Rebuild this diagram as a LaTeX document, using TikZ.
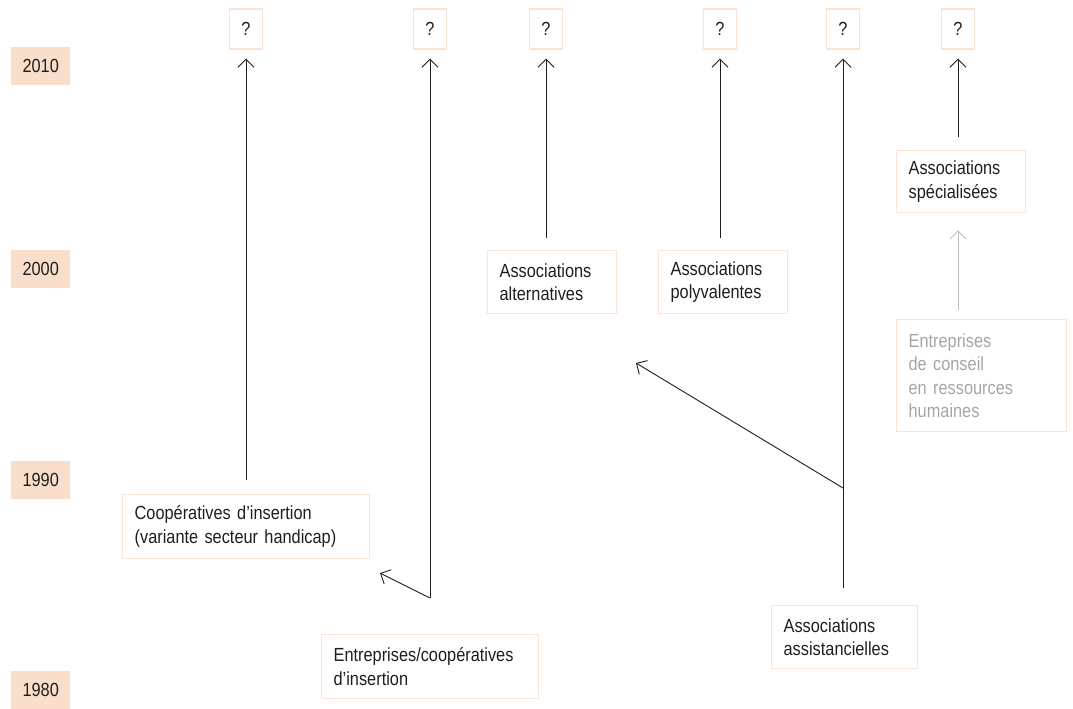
\documentclass[tikz,border=0pt]{standalone}
\usepackage{fontspec}
\setmainfont{Liberation Sans}[FakeStretch=0.86, WordSpace=0.8]
\usetikzlibrary{arrows.meta}
\definecolor{peach}{RGB}{250,222,204}
\definecolor{peachline}{RGB}{252,228,212}
\definecolor{ink}{RGB}{30,30,30}
\definecolor{fade}{RGB}{165,165,165}
\definecolor{fadeline}{RGB}{190,190,190}
\begin{document}
\begin{tikzpicture}[x=1pt,y=-1pt,
  every node/.style={font=\fontsize{19}{23.5}\selectfont, text=ink},
  year/.style={fill=peach, minimum width=59pt, minimum height=38pt, inner sep=0pt, anchor=north west},
  qbox/.style={draw=peachline, line width=1.3pt, minimum width=33pt, minimum height=40pt, inner sep=0pt},
  entity/.style={draw=peachline, line width=1.3pt, inner xsep=12pt, inner ysep=0pt, align=left, anchor=north west},
  link/.style={draw=ink, line width=0.9pt, -{Straight Barb[length=8pt,width=16pt,line width=0.9pt]}},
  faint/.style={link, draw=fadeline}
]
\useasboundingbox (0,0) rectangle (1073,709);

% time scale
\node[year] (y2010) at (11,47) {2010};
\node[year] (y2000) at (11,250) {2000};
\node[year] (y1990) at (11,461) {1990};
\node[year] (y1980) at (11,671) {1980};

% open outcomes
\node[qbox] (q1) at (246,29) {?};
\node[qbox] (q2) at (430,29) {?};
\node[qbox] (q3) at (546,29) {?};
\node[qbox] (q4) at (720,29) {?};
\node[qbox] (q5) at (843,29) {?};
\node[qbox] (q6) at (958,29) {?};

% organisation types
\node[entity, text width=223pt, minimum height=64pt] (coop) at (122,494)
  {Coopératives d’insertion\\(variante secteur handicap)};
\node[entity, text width=193pt, minimum height=64pt] (entr) at (321,634)
  {Entreprises/coopératives\\d’insertion};
\node[entity, text width=105pt, minimum height=63pt] (alt) at (487,250)
  {Associations\\alternatives};
\node[entity, text width=105pt, minimum height=63pt] (poly) at (658,250)
  {Associations\\polyvalentes};
\node[entity, text width=122pt, minimum height=63pt] (assist) at (771,605)
  {Associations\\assistancielles};
\node[entity, text width=105pt, minimum height=62pt] (spec) at (896,150)
  {Associations\\spécialisées};
\node[entity, text width=146pt, minimum height=112pt, text=fade] (conseil) at (896,319)
  {Entreprises\\de conseil\\en ressources\\humaines};

% branching points and free ends
\coordinate (b1) at (430,598);
\coordinate (e1) at (380,573);
\coordinate (b2) at (843,488);
\coordinate (e2) at (636,363);

% trajectories
\draw[link, shorten <=14pt, shorten >=9pt] (coop.north -| q1.south) -- (q1.south);
\draw[link, shorten <=36pt, shorten >=9pt] (entr.north -| q2.south) -- (q2.south);
\draw[link, shorten <=12pt, shorten >=9pt] (alt.north -| q3.south) -- (q3.south);
\draw[link, shorten <=12pt, shorten >=9pt] (poly.north -| q4.south) -- (q4.south);
\draw[link, shorten <=17pt, shorten >=9pt] (assist.north -| q5.south) -- (q5.south);
\draw[link, shorten <=13pt, shorten >=9pt] (spec.north -| q6.south) -- (q6.south);
\draw[faint, shorten <=9pt, shorten >=17pt] (conseil.north -| q6.south) -- (spec.south -| q6.south);
\draw[link] (b1) -- (e1);
\draw[link] (b2) -- (e2);
\end{tikzpicture}
\end{document}
